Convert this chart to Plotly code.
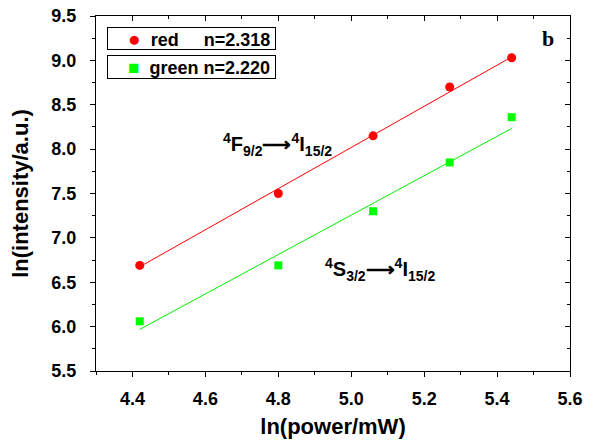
import numpy as np
import plotly.graph_objects as go

# Data
power_ln = [4.42, 4.80, 5.06, 5.27, 5.44]
red_ln = [6.69, 7.50, 8.15, 8.70, 9.03]
green_ln = [6.06, 6.69, 7.30, 7.85, 8.36]
slopes = {"red": 2.318, "green": 2.220}
x_ticks = [4.4, 4.6, 4.8, 5.0, 5.2, 5.4, 5.6]
y_ticks = [5.5, 6.0, 6.5, 7.0, 7.5, 8.0, 8.5, 9.0, 9.5]
x_range = [4.3, 5.6]
y_range = [5.5, 9.5]

def fit_line(x, y, n):
    x = np.array(x); y = np.array(y)
    b = y.mean() - n * x.mean()
    xs = np.array([x.min(), x.max()])
    return xs, n * xs + b

FONT = "Liberation Sans, Arial, sans-serif"
NB = "\u00a0"
fig = go.Figure()

rx, ry = fit_line(power_ln, red_ln, slopes["red"])
gx, gy = fit_line(power_ln, green_ln, slopes["green"])

fig.add_trace(go.Scatter(x=rx, y=ry, mode="lines", line=dict(color="#ff0000", width=1),
                         showlegend=False, hoverinfo="skip"))
fig.add_trace(go.Scatter(x=gx, y=gy, mode="lines", line=dict(color="#00ee00", width=1),
                         showlegend=False, hoverinfo="skip"))
fig.add_trace(go.Scatter(x=power_ln, y=red_ln, mode="markers", name="red",
                         marker=dict(symbol="circle", size=9, color="#ff0000"),
                         showlegend=False))
fig.add_trace(go.Scatter(x=power_ln, y=green_ln, mode="markers", name="green",
                         marker=dict(symbol="square", size=8, color="#00ff00"),
                         showlegend=False))
# invisible traces so the mirrored (top/right) axes are drawn
fig.add_trace(go.Scatter(x=[power_ln[0]], y=[red_ln[0]], xaxis="x2", yaxis="y", mode="markers",
                         marker=dict(opacity=0), showlegend=False, hoverinfo="skip"))
fig.add_trace(go.Scatter(x=[power_ln[0]], y=[red_ln[0]], xaxis="x", yaxis="y2", mode="markers",
                         marker=dict(opacity=0), showlegend=False, hoverinfo="skip"))

tickfont = dict(family=FONT, size=18, color="black", weight="bold")
axis_common = dict(showline=True, linecolor="black", linewidth=1, showgrid=False,
                   zeroline=False, ticks="outside", ticklen=5, tickcolor="black",
                   tickfont=tickfont, automargin=False)
mirror_common = dict(showline=True, linecolor="black", linewidth=1, ticks="inside",
                     ticklen=5, tickcolor="black", showticklabels=False, showgrid=False,
                     zeroline=False, automargin=False)

legend_font = dict(family=FONT, size=18, color="black", weight="bold")
red_key = (NB * 4 + "<span style='color:#ff0000;font-size:21px'>\u25cf</span>" + NB * 2 + "red"
           + NB * 5 + f"n={slopes['red']:.3f}")
green_key = (NB * 4 + "<span style='color:#00ff00;font-size:19px'>\u25a0</span>" + NB * 2
             + "green" + NB + f"n={slopes['green']:.3f}")

fig.update_layout(
    width=598, height=443,
    margin=dict(l=96, r=28, t=16, b=72),
    plot_bgcolor="white", paper_bgcolor="white",
    font=dict(family=FONT, color="black"),
    showlegend=False,
    xaxis=dict(range=x_range, tickvals=x_ticks, tickformat=".1f", ticklabelstandoff=6,
               minor=dict(dtick=0.1, ticks="outside", ticklen=3, tickcolor="black"),
               title=dict(text="ln(power/mW)", font=dict(family=FONT, size=22, weight="bold"),
                          standoff=11),
               **axis_common),
    yaxis=dict(range=y_range, tickvals=y_ticks, tickformat=".1f", ticklabelstandoff=10,
               minor=dict(dtick=0.25, ticks="outside", ticklen=3, tickcolor="black"),
               title=dict(text="ln(intensity/a.u.)", font=dict(family=FONT, size=22, weight="bold"),
                          standoff=16),
               **axis_common),
    xaxis2=dict(overlaying="x", side="top", anchor="y", range=x_range, tickvals=x_ticks,
                minor=dict(dtick=0.1, ticks="inside", ticklen=3, tickcolor="black"),
                **mirror_common),
    yaxis2=dict(overlaying="y", side="right", anchor="x", range=y_range, tickvals=y_ticks,
                minor=dict(dtick=0.25, ticks="inside", ticklen=3, tickcolor="black"),
                **mirror_common),
    annotations=[
        dict(x=0.0232, y=0.969, xref="paper", yref="paper", xanchor="left", yanchor="top",
             showarrow=False, text=red_key, align="left", width=167, height=21,
             borderpad=0, borderwidth=1, bordercolor="black", bgcolor="white", font=legend_font),
        dict(x=0.0232, y=0.890, xref="paper", yref="paper", xanchor="left", yanchor="top",
             showarrow=False, text=green_key, align="left", width=167, height=22,
             borderpad=0, borderwidth=1, bordercolor="black", bgcolor="white", font=legend_font),
        dict(x=4.797, y=8.05, xref="x", yref="y", showarrow=False,
             text="<b><sup>4</sup>F<sub>9/2</sub>\u27f6<sup>4</sup>I<sub>15/2</sub></b>",
             font=dict(family=FONT, size=20, color="black")),
        dict(x=5.078, y=6.64, xref="x", yref="y", showarrow=False,
             text="<b><sup>4</sup>S<sub>3/2</sub>\u27f6<sup>4</sup>I<sub>15/2</sub></b>",
             font=dict(family=FONT, size=20, color="black")),
        dict(x=0.954, y=0.938, xref="paper", yref="paper", xanchor="center", yanchor="middle",
             showarrow=False, text="<b>b</b>",
             font=dict(family="Liberation Serif, Times New Roman, serif", size=22, color="black")),
    ],
)

fig.write_html("out.html", config={"displayModeBar": False},
               post_script="document.body.style.margin='0';")
